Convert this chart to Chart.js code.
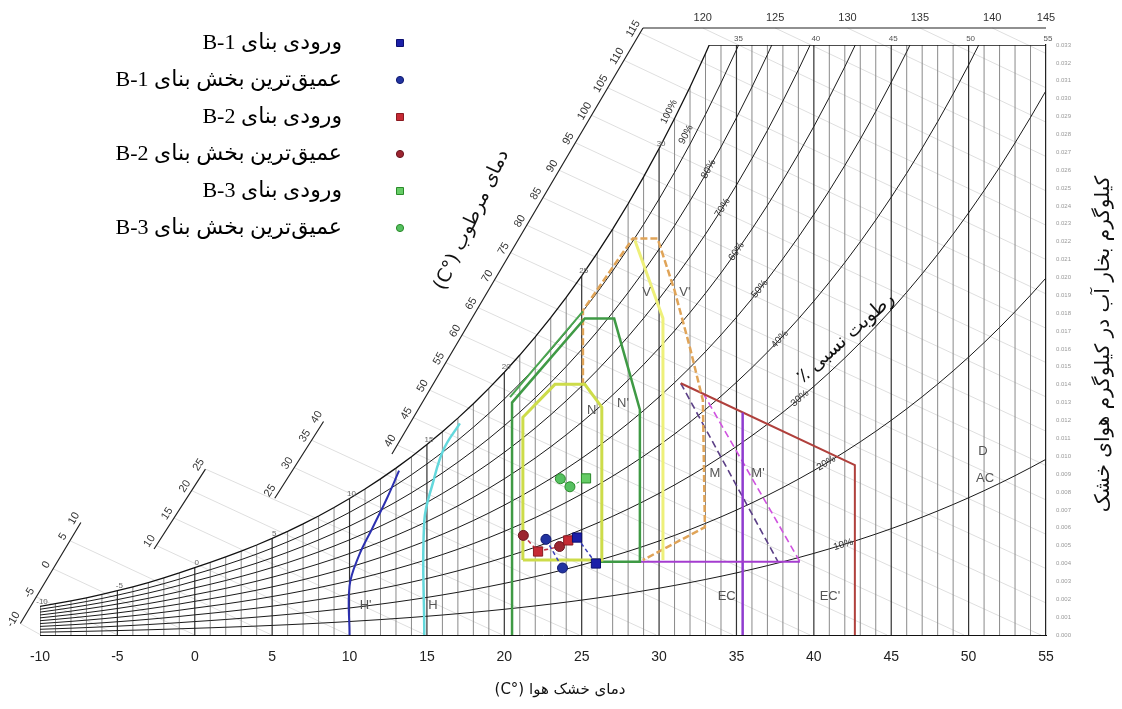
<!DOCTYPE html>
<html lang="fa">
<head>
<meta charset="utf-8">
<title>نمودار زیست اقلیمی</title>
<script src="https://cdn.jsdelivr.net/npm/chart.js@4.4.1/dist/chart.umd.min.js"></script>
<style>
  html, body { margin: 0; padding: 0; background: #fff; }
  #wrap { width: 1122px; height: 709px; }
</style>
</head>
<body>
<div id="wrap"><canvas id="bioChart" width="1122" height="709"></canvas></div>
<script>
// ---------- chart grid ----------
const tempStart = -10;
// saturation vapour pressure (kPa) for each whole degree, -10 .. 55 C
const satPressure = [
  0.2600, 0.2842, 0.3100, 0.3380, 0.3685, 0.4017, 0.4374, 0.4760, 0.5177, 0.5626,
  0.6112, 0.6571, 0.7060, 0.7581, 0.8135, 0.8726, 0.9354, 1.0021, 1.0730, 1.1482,
  1.2282, 1.3129, 1.4028, 1.4981, 1.5989, 1.7057, 1.8188, 1.9383, 2.0647, 2.1982,
  2.3392, 2.4881, 2.6452, 2.8109, 2.9856, 3.1697, 3.3637, 3.5679, 3.7828, 4.0089,
  4.2467, 4.4966, 4.7592, 5.0351, 5.3247, 5.6286, 5.9475, 6.2818, 6.6324, 6.9997,
  7.3844, 7.7873, 8.2090, 8.6503, 9.1118, 9.5944, 10.099, 10.626, 11.177, 11.752,
  12.352, 12.978, 13.631, 14.312, 15.022, 15.761
];
const rhLevels = [10, 20, 30, 40, 50, 60, 70, 80, 90];
const rhLabelLevels = [10, 20, 30, 40, 50, 60, 70, 80, 90, 100];
const rhLabelTemps = [41.9, 40.8, 39.1, 37.8, 36.5, 35.0, 34.1, 33.2, 32.2, 31.1];
const xTickStep = 5;
const topW = 0.033;
const satLabelTemps = [-10, -5, 0, 5, 10, 15, 20, 25, 30];
const topLineLabelTemps = [35, 40, 45, 50, 55];

// slanted enthalpy scale (kJ/kg), ends in [C, kg/kg]
const scaleSegments = [
  { from: [-11.27, 0.00064], to: [-7.36, 0.00629], labels: [-10, -5, 0, 5, 10] },
  { from: [-2.63, 0.00481], to: [0.69, 0.00928], labels: [10, 15, 20, 25] },
  { from: [5.17, 0.00765], to: [8.32, 0.01194], labels: [25, 30, 35, 40] },
  { from: [12.74, 0.01012], to: [28.96, 0.03395],
    labels: [40, 45, 50, 55, 60, 65, 70, 75, 80, 85, 90, 95, 100, 105, 110, 115] }
];
const scaleTopW = 0.03395;
const scaleTopLabels = [120, 125, 130, 135, 140, 145];

// ---------- bioclimatic zones (C, kg/kg) ----------
const zoneNT = [21.2, 21.2, 23.27, 25.2, 26.3, 26.3, 21.2];
const zoneNW = [0.00419, 0.01218, 0.01402, 0.01402, 0.01274, 0.00419, 0.00419];
const zoneN2T = [25.98, 28.76, 28.76, 27.1, 25.2, 20.5, 20.5];
const zoneN2W = [0.00410, 0.00410, 0.0126, 0.0177, 0.0177, 0.0130, 0];
const zoneN2EdgeT = [20.37, 25.08];
const zoneN2EdgeW = [0.01331, 0.0181];
const zoneVT = [28.44, 30.25, 30.25];
const zoneVW = [0.02207, 0.01771, 0.00419];
const zoneV2T = [25.08, 25.08, 28.3, 29.9, 31.0, 31.99, 32.83, 32.96, 28.95];
const zoneV2W = [0.01397, 0.01816, 0.02218, 0.02218, 0.01927, 0.01609, 0.01313, 0.00603, 0.00419];
const massBaseT = [28.76, 39.1];
const massBaseW = [0.00410, 0.00410];
const evapT = [35.4, 35.4];
const evapW = [0, 0.01244];
const evap2T = [31.4, 42.65, 42.65];
const evap2W = [0.01408, 0.0095, 0];
const massT = [31.4, 37.68];
const massW = [0.01408, 0.00410];
const mass2T = [32.84, 39.1];
const mass2W = [0.01354, 0.00410];
const heatT = [10.0, 10.0, 10.57, 11.49, 12.42, 13.2];
const heatW = [0, 0.00274, 0.00436, 0.0060, 0.00765, 0.00919];
const heat2T = [14.83, 14.83, 15.4, 16.09, 17.13];
const heat2W = [0, 0.00637, 0.00855, 0.0104, 0.01184];
const zoneNames = ["H'", 'H', 'N', "N'", 'V', "V'", 'M', "M'", 'EC', "EC'", 'D', 'AC'];
const zoneNameT = [11.04, 15.39, 25.65, 27.67, 29.2, 31.67, 33.61, 36.39, 34.37, 41.04, 50.93, 51.06];
const zoneNameW = [0.00164, 0.00164, 0.01258, 0.01298, 0.01915, 0.01915, 0.00906, 0.00906, 0.00214, 0.00214, 0.01024, 0.00878];

// ---------- measured points ----------
const seriesLabels = [
  'ورودی بنای B-1',
  'عمیق\u200cترین بخش بنای B-1',
  'ورودی بنای B-2',
  'عمیق\u200cترین بخش بنای B-2',
  'ورودی بنای B-3',
  'عمیق\u200cترین بخش بنای B-3'
];
const b1EntranceT = [24.70, 25.92];
const b1EntranceW = [0.00545, 0.00400];
const b1DeepT = [22.69, 23.76];
const b1DeepW = [0.00535, 0.00375];
const b2EntranceT = [22.18, 24.13];
const b2EntranceW = [0.00467, 0.00529];
const b2DeepT = [21.23, 23.57];
const b2DeepW = [0.00557, 0.00495];
const b3EntranceT = [25.28];
const b3EntranceW = [0.00876];
const b3DeepT = [23.62, 24.24];
const b3DeepW = [0.00874, 0.00829];

// ---------- helpers ----------
const zip = (ts, ws) => ts.map((t, i) => ({ x: t, y: ws[i] }));
const gap = { x: null, y: null };
function satAt(t) {
  const i = Math.max(0, Math.min(satPressure.length - 2, Math.floor(t - tempStart)));
  const f = t - tempStart - i;
  return satPressure[i] + (satPressure[i + 1] - satPressure[i]) * f;
}
function ratio(rh, t) {
  const pv = rh / 100 * satAt(t);
  return 0.622 * pv / (101.325 - pv);
}
const enthalpy = (t, w) => 1.006 * t + w * (2501 + 1.86 * t);
const gridTemps = satPressure.map((_, i) => tempStart + i);

// where the saturation curve meets the top line
let satTopT = 55;
for (let i = 1; i < gridTemps.length; i++) {
  const w0 = ratio(100, gridTemps[i - 1]), w1 = ratio(100, gridTemps[i]);
  if (w1 >= topW) { satTopT = gridTemps[i - 1] + (topW - w0) / (w1 - w0); break; }
}

const minorGrid = [], majorGrid = [];
gridTemps.forEach(t => {
  const top = Math.min(ratio(100, t), topW);
  (t % 5 === 0 ? majorGrid : minorGrid).push({ x: t, y: 0 }, { x: t, y: top }, gap);
});

const rhCurves = [];
rhLevels.forEach(rh => {
  gridTemps.forEach(t => rhCurves.push({ x: t, y: ratio(rh, t) }));
  rhCurves.push(gap);
});
const satCurve = gridTemps.filter(t => t <= 34).map(t => ({ x: t, y: ratio(100, t) }));

function onSegment(s, h) {
  const h1 = enthalpy(s.from[0], s.from[1]), h2 = enthalpy(s.to[0], s.to[1]);
  const f = Math.min(1, Math.max(0, (h - h1) / (h2 - h1)));
  return [s.from[0] + f * (s.to[0] - s.from[0]), s.from[1] + f * (s.to[1] - s.from[1])];
}
function scaleStart(h) {
  for (const s of scaleSegments) {
    const h1 = enthalpy(s.from[0], s.from[1]), h2 = enthalpy(s.to[0], s.to[1]);
    if (h >= h1 - 1.5 && h <= h2 + 1.5) return onSegment(s, h);
  }
  return [(h - 2501 * scaleTopW) / (1.006 + 1.86 * scaleTopW), scaleTopW];
}
const enthalpyLines = [];
for (let h = -10; h <= 145; h += 5) {
  const p = scaleStart(h);
  if (p[0] >= 55) continue;
  let tEnd = h / 1.006, wEnd = 0;
  if (tEnd > 55) { tEnd = 55; wEnd = (h - 1.006 * 55) / (2501 + 1.86 * 55); }
  enthalpyLines.push({ x: p[0], y: p[1] }, { x: tEnd, y: wEnd }, gap);
}
const scaleLines = [];
scaleSegments.forEach(s => scaleLines.push({ x: s.from[0], y: s.from[1] }, { x: s.to[0], y: s.to[1] }, gap));
scaleLines.push({ x: scaleSegments[3].to[0], y: scaleTopW }, { x: 55, y: scaleTopW });

function lineSet(data, color, width, extra) {
  return Object.assign({
    data, showLine: true, borderColor: color, borderWidth: width,
    pointRadius: 0, pointHoverRadius: 0, fill: false, tension: 0, order: 4
  }, extra || {});
}

// ---------- text layer ----------
function drawText(ctx, txt, x, y, ang, font, color, rtl, align) {
  ctx.save();
  ctx.translate(x, y);
  ctx.rotate(ang);
  ctx.font = font;
  ctx.fillStyle = color;
  ctx.direction = rtl ? 'rtl' : 'ltr';
  ctx.textAlign = align || 'center';
  ctx.textBaseline = 'middle';
  ctx.fillText(txt, 0, 0);
  ctx.restore();
}

const textLayer = {
  id: 'textLayer',
  beforeDraw(chart) {
    const ctx = chart.ctx;
    ctx.save();
    ctx.fillStyle = '#fff';
    ctx.fillRect(0, 0, chart.width, chart.height);
    ctx.restore();
  },
  afterDatasetsDraw(chart) {
    const ctx = chart.ctx, sx = chart.scales.x, sy = chart.scales.y;
    const X = t => sx.getPixelForValue(t), Y = w => sy.getPixelForValue(w);
    const small = "11px 'Liberation Sans', Arial, sans-serif";

    // enthalpy scale labels
    scaleSegments.forEach(s => {
      const x1 = X(s.from[0]), y1 = Y(s.from[1]), x2 = X(s.to[0]), y2 = Y(s.to[1]);
      const ang = Math.atan2(y2 - y1, x2 - x1), len = Math.hypot(x2 - x1, y2 - y1);
      const nx = (y2 - y1) / len, ny = -(x2 - x1) / len;
      s.labels.forEach(h => {
        const p = onSegment(s, h);
        drawText(ctx, String(h), X(p[0]) + nx * 8, Y(p[1]) + ny * 8, ang, small, '#333');
      });
    });
    scaleTopLabels.forEach(h => {
      const t = Math.min(55, (h - 2501 * scaleTopW) / (1.006 + 1.86 * scaleTopW));
      drawText(ctx, String(h), X(t), Y(scaleTopW) - 10, 0, small, '#333');
    });

    // temperature marks along the saturation curve and the top line
    const tiny = "8px 'Liberation Sans', Arial, sans-serif";
    satLabelTemps.forEach(t => drawText(ctx, String(t), X(t) + 2, Y(ratio(100, t)) - 5, 0, tiny, '#666'));
    topLineLabelTemps.forEach(t => drawText(ctx, String(t), X(t) + 2, Y(topW) - 6, 0, tiny, '#555'));

    // relative humidity labels along the curves
    rhLabelLevels.forEach((rh, i) => {
      const t = rhLabelTemps[i];
      const xa = X(t - 0.3), ya = Y(ratio(rh, t - 0.3)), xb = X(t + 0.3), yb = Y(ratio(rh, t + 0.3));
      const ang = Math.atan2(yb - ya, xb - xa);
      const off = rh >= 90 ? 8 : 0;
      drawText(ctx, rh + '%', X(t) + Math.sin(ang) * off, Y(ratio(rh, t)) - Math.cos(ang) * off, ang,
        "10px 'Liberation Sans', Arial, sans-serif", '#333');
    });

    // zone names
    zoneNames.forEach((n, i) => drawText(ctx, n, X(zoneNameT[i]), Y(zoneNameW[i]), 0,
      "13px 'Liberation Sans', Arial, sans-serif", '#555'));

    // axis titles
    const fa = "19px 'DejaVu Sans', sans-serif";
    drawText(ctx, 'دمای خشک هوا (°C)', 560, 690, 0, "15px 'DejaVu Sans', sans-serif", '#111', true);
    drawText(ctx, 'کیلوگرم بخار آب در کیلوگرم هوای خشک', 1104, 344, -Math.PI / 2, "20px 'DejaVu Sans', sans-serif", '#111', true);
    drawText(ctx, 'دمای مرطوب (°C)', 472, 220, -65 * Math.PI / 180, fa, '#111', true);
    drawText(ctx, 'رطوبت نسبی ٪', 846, 338, -42 * Math.PI / 180, fa, '#111', true);

    // legend for the six measured series
    const legendY0 = 43, legendStep = 37;
    chart.data.datasets.slice(0, 6).forEach((ds, i) => {
      const y = legendY0 + i * legendStep, x = 400;
      ctx.save();
      ctx.fillStyle = ds.backgroundColor;
      ctx.strokeStyle = ds.pointBorderColor || ds.borderColor;
      ctx.lineWidth = 1;
      ctx.beginPath();
      if (ds.pointStyle === 'rect') ctx.rect(x - 3.5, y - 3.5, 7, 7);
      else ctx.arc(x, y, 3.6, 0, Math.PI * 2);
      ctx.fill();
      ctx.stroke();
      ctx.restore();
      drawText(ctx, ds.label, 342, y, 0, "22px 'Liberation Serif', 'DejaVu Sans', serif", '#000', true, 'right');
    });
  }
};

// ---------- chart ----------
const pointBase = { showLine: false, order: 0, pointBorderWidth: 1 };
const datasets = [
  Object.assign({}, pointBase, { label: seriesLabels[0], data: zip(b1EntranceT, b1EntranceW), pointStyle: 'rect',
    pointRadius: 6.5, backgroundColor: '#1b1fa8', pointBorderColor: '#0c0f70', borderColor: '#3a3fb8',
    showLine: true, borderDash: [4, 3], borderWidth: 1.5 }),
  Object.assign({}, pointBase, { label: seriesLabels[1], data: zip(b1DeepT, b1DeepW), pointStyle: 'circle',
    pointRadius: 5, backgroundColor: '#2233a0', pointBorderColor: '#101a70', borderColor: '#3a3fb8',
    showLine: true, borderDash: [4, 3], borderWidth: 1.5 }),
  Object.assign({}, pointBase, { label: seriesLabels[2], data: zip(b2EntranceT, b2EntranceW), pointStyle: 'rect',
    pointRadius: 6.5, backgroundColor: '#c62a34', pointBorderColor: '#8a1a20', borderColor: '#8a1a20' }),
  Object.assign({}, pointBase, { label: seriesLabels[3], data: zip(b2DeepT, b2DeepW), pointStyle: 'circle',
    pointRadius: 5, backgroundColor: '#9c2530', pointBorderColor: '#6a1520', borderColor: '#6a1520' }),
  Object.assign({}, pointBase, { label: seriesLabels[4], data: zip(b3EntranceT, b3EntranceW), pointStyle: 'rect',
    pointRadius: 6.5, backgroundColor: '#66cc66', pointBorderColor: '#2a8a2a', borderColor: '#2a8a2a' }),
  Object.assign({}, pointBase, { label: seriesLabels[5], data: zip(b3DeepT, b3DeepW), pointStyle: 'circle',
    pointRadius: 5, backgroundColor: '#55c060', pointBorderColor: '#2a8a2a', borderColor: '#2a8a2a' }),

  // connectors between readings
  lineSet([{ x: b2DeepT[0], y: b2DeepW[0] }, { x: b2EntranceT[0], y: b2EntranceW[0] },
           { x: b2DeepT[1], y: b2DeepW[1] }, { x: b2EntranceT[1], y: b2EntranceW[1] }],
          '#c03040', 1.5, { borderDash: [4, 3], order: 1 }),
  lineSet([{ x: b3DeepT[0], y: b3DeepW[0] }, { x: b3DeepT[1], y: b3DeepW[1] },
           { x: b3EntranceT[0], y: b3EntranceW[0] }], '#3aa84a', 1, { borderDash: [3, 2], order: 1 }),

  // zones
  lineSet(zip(zoneNT, zoneNW), '#cddc4a', 3, { order: 2 }),
  lineSet(zip(zoneN2T, zoneN2W), '#3f9a45', 2.5, { order: 2 }),
  lineSet(zip(zoneN2EdgeT, zoneN2EdgeW), '#4aa650', 2, { order: 2 }),
  lineSet(zip(zoneVT, zoneVW), '#eef07a', 3, { order: 2 }),
  lineSet(zip(zoneV2T, zoneV2W), '#e0a458', 2.5, { borderDash: [7, 3], order: 2 }),
  lineSet(zip(massBaseT, massBaseW), '#a43ccf', 2, { order: 2 }),
  lineSet(zip(evapT, evapW), '#8f3ccf', 2.5, { order: 2 }),
  lineSet(zip(evap2T, evap2W), '#b0403c', 2, { order: 2 }),
  lineSet(zip(massT, massW), '#5b3f86', 1.6, { borderDash: [7, 4], order: 2 }),
  lineSet(zip(mass2T, mass2W), '#d052e0', 1.6, { borderDash: [7, 4], order: 2 }),
  lineSet(zip(heatT, heatW), '#2c30b0', 2, { tension: 0.4, order: 2 }),
  lineSet(zip(heat2T, heat2W), '#63d8dc', 2.5, { tension: 0.4, order: 2 }),

  // psychrometric grid
  lineSet(satCurve, '#111', 1.3, { order: 3 }),
  lineSet([{ x: satTopT, y: topW }, { x: 55, y: topW }], '#111', 1.3, { order: 3 }),
  lineSet(scaleLines, '#222', 1.2, { order: 3, clip: false }),
  lineSet(rhCurves, '#1a1a1a', 1, { order: 4 }),
  lineSet(majorGrid, '#333', 1.2, { order: 5 }),
  lineSet(minorGrid, '#8a8a8a', 1, { order: 5 }),
  lineSet(enthalpyLines, 'rgba(0,0,0,0.13)', 1, { order: 6, clip: false })
];

const chart = new Chart(document.getElementById('bioChart'), {
  type: 'scatter',
  data: { datasets },
  options: {
    responsive: false,
    animation: false,
    devicePixelRatio: 1,
    layout: { padding: { left: 40, right: 46, top: 45, bottom: 44 } },
    plugins: { legend: { display: false }, tooltip: { enabled: false } },
    elements: { line: { spanGaps: false } },
    scales: {
      x: {
        type: 'linear', min: -10, max: 55,
        grid: { display: false },
        border: { display: true, color: '#111', width: 1 },
        ticks: { stepSize: xTickStep, color: '#222', padding: 6,
                 font: { family: "'Liberation Sans', Arial, sans-serif", size: 14 } },
        afterFit(scale) { scale.height = 30; }
      },
      y: {
        type: 'linear', position: 'right', min: 0, max: topW,
        grid: { display: false },
        border: { display: true, color: '#111', width: 1.2 },
        ticks: { stepSize: 0.001, autoSkip: false, color: '#999', padding: 2,
                 font: { family: "'Liberation Sans', Arial, sans-serif", size: 6 },
                 callback: v => v.toFixed(3) },
        afterFit(scale) { scale.width = 30; }
      }
    }
  },
  plugins: [textLayer]
});
</script>
</body>
</html>
